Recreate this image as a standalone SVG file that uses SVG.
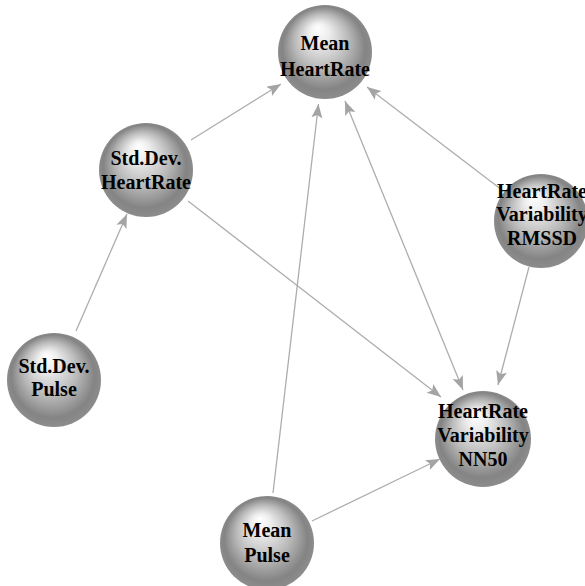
<svg xmlns="http://www.w3.org/2000/svg" width="585" height="586" viewBox="0 0 585 586">
<defs>
<radialGradient id="sph" cx="0.5" cy="0.5" r="0.52" fx="0.42" fy="0.24">
<stop offset="0" stop-color="#ffffff"/>
<stop offset="0.2" stop-color="#eeeeee"/>
<stop offset="0.55" stop-color="#bababa"/>
<stop offset="0.85" stop-color="#848484"/>
<stop offset="1" stop-color="#8e8e8e"/>
</radialGradient>
<marker id="arr" markerUnits="userSpaceOnUse" markerWidth="15" markerHeight="12" refX="14" refY="5.5" orient="auto-start-reverse">
<path d="M0,0 L14,5.5 L0,11 L3,5.5 z" fill="#a4a4a4"/>
</marker>
<style>
.n{fill:url(#sph);}
.t{font-family:"Liberation Serif","Times New Roman",serif;font-weight:bold;font-size:20px;fill:#000;text-anchor:middle;}
.e{stroke:#adadad;stroke-width:1.3;fill:none;marker-end:url(#arr);}
</style>
</defs>
<g id="edges">
<line class="e" x1="191" y1="140" x2="281" y2="84"/>
<line class="e" x1="76" y1="331" x2="127" y2="214"/>
<line class="e" x1="188" y1="201" x2="441" y2="397"/>
<line class="e" x1="273" y1="493" x2="318.5" y2="104"/>
<line class="e" x1="345" y1="101" x2="463" y2="390" marker-start="url(#arr)"/>
<line class="e" x1="502" y1="190" x2="367" y2="87"/>
<line class="e" x1="529" y1="267" x2="498" y2="385"/>
<line class="e" x1="312" y1="521" x2="440" y2="459"/>
</g>
<g id="mean-heartrate">
<circle class="n" cx="325" cy="52" r="47"/>
<text class="t" x="325" y="50">Mean</text>
<text class="t" x="325" y="76">HeartRate</text>
</g>
<g id="stddev-heartrate">
<circle class="n" cx="146" cy="170" r="47"/>
<text class="t" x="146" y="165">Std.Dev.</text>
<text class="t" x="146" y="189">HeartRate</text>
</g>
<g id="hrv-rmssd">
<circle class="n" cx="541" cy="221" r="47"/>
<text class="t" x="542" y="198">HeartRate</text>
<text class="t" x="542" y="221">Variability</text>
<text class="t" x="542" y="245">RMSSD</text>
</g>
<g id="stddev-pulse">
<circle class="n" cx="54" cy="380" r="47"/>
<text class="t" x="54" y="373">Std.Dev.</text>
<text class="t" x="54" y="396">Pulse</text>
</g>
<g id="hrv-nn50">
<circle class="n" cx="483" cy="439" r="48"/>
<text class="t" x="483" y="418">HeartRate</text>
<text class="t" x="483" y="442">Variability</text>
<text class="t" x="483" y="466">NN50</text>
</g>
<g id="mean-pulse">
<circle class="n" cx="267" cy="543" r="47"/>
<text class="t" x="267" y="537">Mean</text>
<text class="t" x="267" y="562">Pulse</text>
</g>
</svg>
